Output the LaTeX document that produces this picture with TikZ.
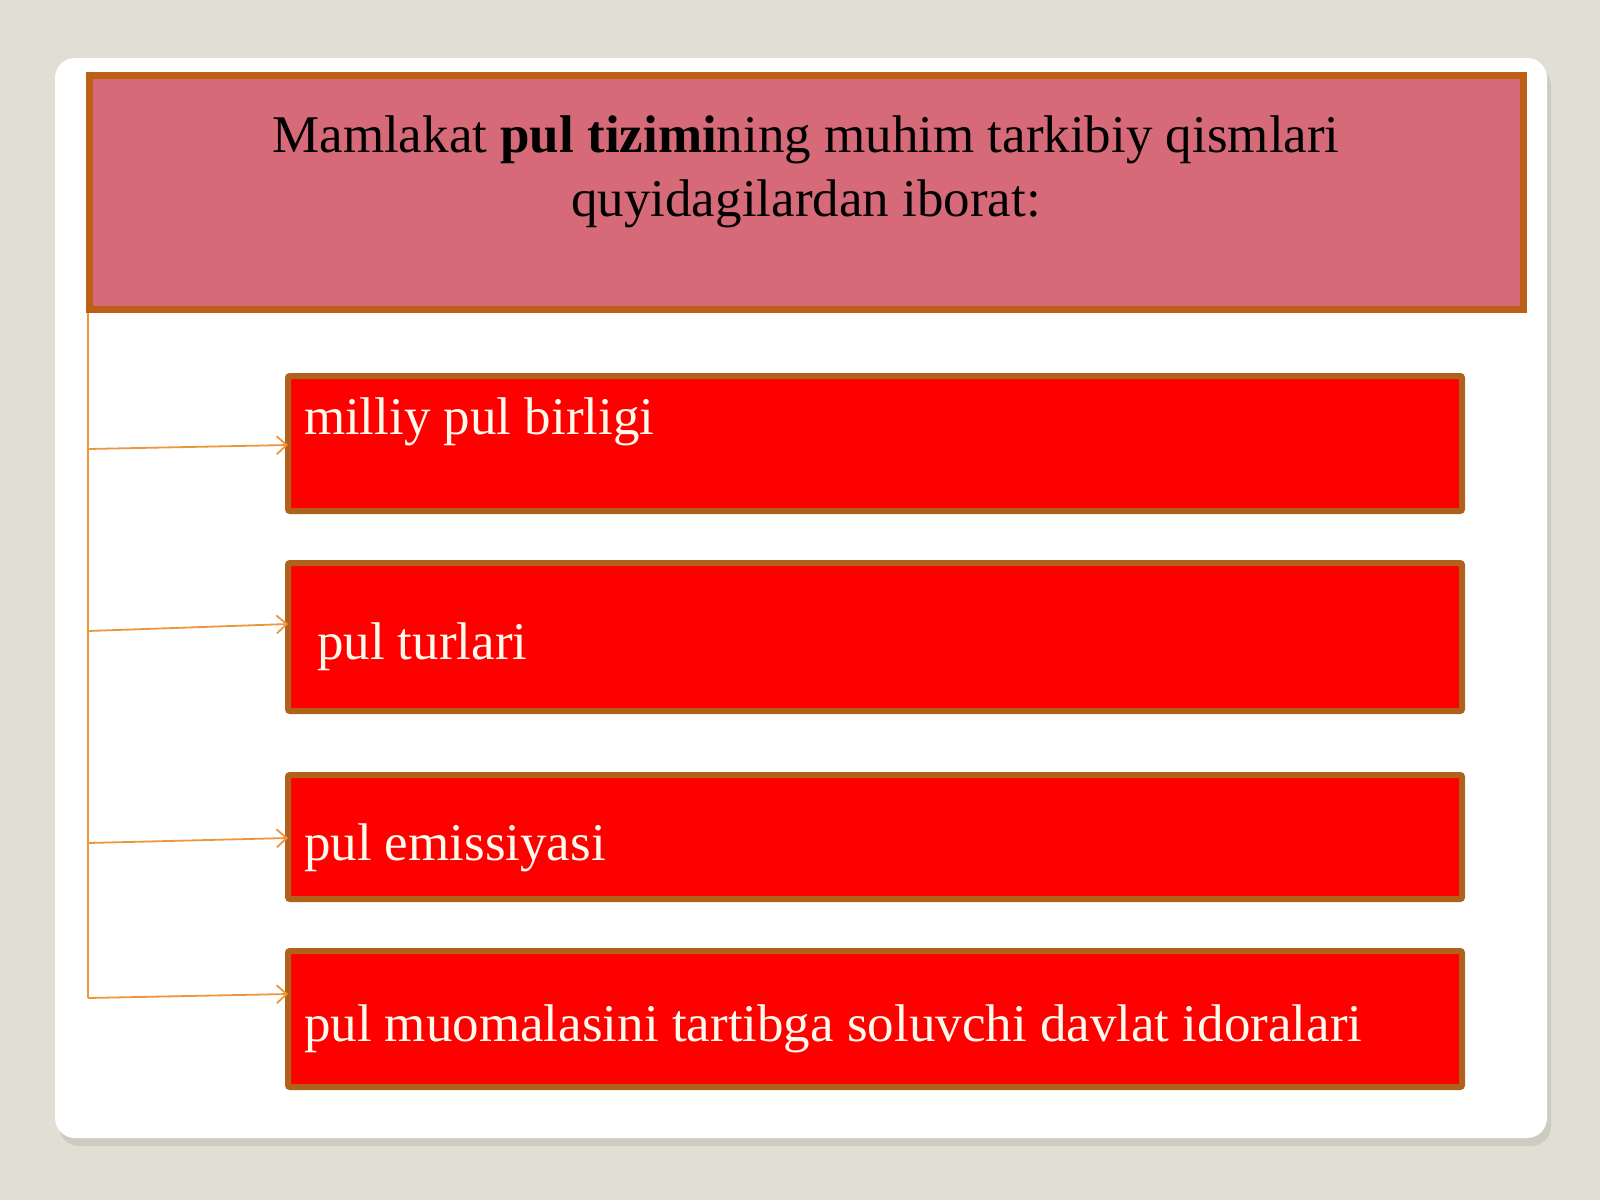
\documentclass[tikz,border=0pt]{standalone}
\usepackage{fontspec}
\setmainfont{Liberation Serif}
\usetikzlibrary{positioning,shadows,arrows.meta}

\definecolor{pagebg}{RGB}{225,223,211}
\definecolor{titlepink}{RGB}{215,106,120}
\definecolor{titleedge}{RGB}{188,96,22}
\definecolor{boxedge}{RGB}{176,98,28}
\definecolor{itemred}{RGB}{254,0,0}
\definecolor{linkorange}{RGB}{237,150,60}
\definecolor{itemtext}{RGB}{255,250,235}

\begin{document}
\begin{tikzpicture}[x=0.5pt,y=-0.5pt,
  every node/.style={inner sep=0pt,outer sep=0pt},
  titlebox/.style={draw=titleedge,line width=3.5pt,fill=titlepink,
    minimum width=717pt,minimum height=117pt},
  itembox/.style={draw=boxedge,line width=3pt,fill=itemred,rounded corners=1pt,
    minimum width=587pt},
  itemtext/.style={anchor=base west,text=itemtext,font=\fontsize{26.5}{32}\selectfont},
  link/.style={draw=linkorange,line width=0.9pt,-{Straight Barb[length=5pt,width=9pt]}}
]
  \useasboundingbox[fill=pagebg] (0,0) rectangle (1600,1200);
  \fill[white,rounded corners=10pt,
    drop shadow={shadow xshift=2pt,shadow yshift=-4pt,opacity=0.2}]
    (55,58) rectangle (1547,1138);

  % header
  \node[titlebox] (title) at (806,192.5) {};
  \node[anchor=north,align=center,font=\fontsize{26.5}{32}\selectfont] (head) at (806,116)
    {Mamlakat \textbf{pul tizimi}ning muhim tarkibiy qismlari\\quyidagilardan iborat:};

  % items
  \node[itembox,minimum height=67.5pt] (b1) at (875,443.5) {};
  \node[itembox,minimum height=74pt] (b2) at (875,637) {};
  \node[itembox,minimum height=62pt] (b3) at (875,837) {};
  \node[itembox,minimum height=68pt] (b4) at (875,1019) {};

  \node[itemtext] (t1) at (304,434) {milliy pul birligi};
  \node[itemtext] (t2) at (317,659) {pul turlari};
  \node[itemtext] (t3) at (304,860) {pul emissiyasi};
  \node[itemtext] (t4) at (304,1041) {pul muomalasini tartibga soluvchi davlat idoralari};

  % connectors
  \coordinate (s0) at (88,313);
  \coordinate (s1) at (88,449);
  \coordinate (s2) at (88,631);
  \coordinate (s3) at (88,843);
  \coordinate (s4) at (88,998);
  \draw[draw=linkorange,line width=0.9pt] (s0) -- (s4);
  \draw[link] (s1) -- (b1.west |- 0,445);
  \draw[link] (s2) -- (b2.west |- 0,624);
  \draw[link] (s3) -- (b3.west |- 0,838);
  \draw[link] (s4) -- (b4.west |- 0,994);
\end{tikzpicture}
\end{document}
